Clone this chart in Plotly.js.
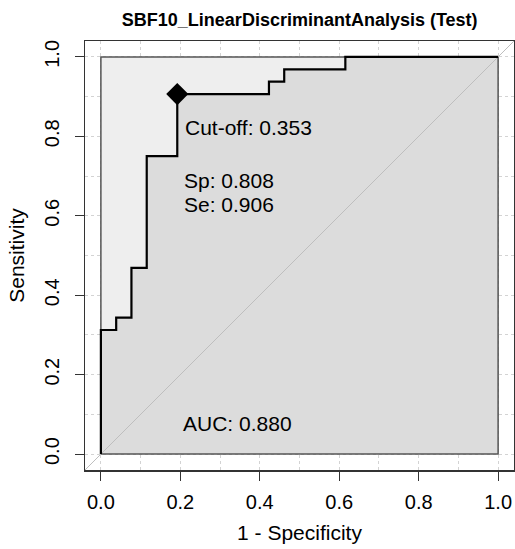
<!DOCTYPE html>
<html>
<head>
<meta charset="utf-8">
<script src="https://cdn.plot.ly/plotly-3.0.1.min.js"></script>
<style>html,body{margin:0;padding:0;background:#fff;}#chart{width:515px;height:549px;}</style>
</head>
<body>
<div id="chart"></div>
<script>
// ROC step vertices (1 - specificity, sensitivity)
var fpr = [0, 0, 0.0385, 0.0385, 0.0769, 0.0769, 0.1154, 0.1154, 0.1923, 0.1923, 0.4231, 0.4231, 0.4615, 0.4615, 0.6154, 0.6154, 1.0];
var tpr = [0, 0.3125, 0.3125, 0.3438, 0.3438, 0.4688, 0.4688, 0.75, 0.75, 0.9063, 0.9063, 0.9375, 0.9375, 0.9688, 0.9688, 1.0, 1.0];
var bestFpr = [0.1923];
var bestTpr = [0.9063];
var unitX = [0, 1, 1, 0, 0];
var unitY = [0, 0, 1, 1, 0];
var diagX = [-0.04, 1.04];
var diagY = [-0.04, 1.04];
var tickVals = [0, 0.2, 0.4, 0.6, 0.8, 1.0];
var tickText = ["0.0", "0.2", "0.4", "0.6", "0.8", "1.0"];
var cutoffText = "Cut-off: 0.353";
var spText = "Sp: 0.808";
var seText = "Se: 0.906";
var aucText = "AUC: 0.880";

var font = "Liberation Sans, Arial, sans-serif";

var traces = [
  {x: unitX, y: unitY, mode: "lines", fill: "toself", fillcolor: "#EEEEEE",
   line: {color: "rgba(0,0,0,0)", width: 0}, hoverinfo: "skip"},
  {x: fpr.concat([1]), y: tpr.concat([0]), mode: "lines", fill: "tozeroy", fillcolor: "#DCDCDC",
   line: {color: "rgba(0,0,0,0)", width: 0}, hoverinfo: "skip"},
  {x: unitX, y: unitY, mode: "lines", line: {color: "#555555", width: 1.5}, hoverinfo: "skip"},
  {x: diagX, y: diagY, mode: "lines", line: {color: "#BEBEBE", width: 1}, hoverinfo: "skip"},
  {x: fpr, y: tpr, mode: "lines", line: {color: "#000000", width: 2.2}, hoverinfo: "skip"},
  {x: bestFpr, y: bestTpr, mode: "markers", marker: {symbol: "diamond", size: 17, color: "#000000"}, hoverinfo: "skip"}
];

function ann(x, y, t) {
  return {x: x, y: y, xref: "x", yref: "y", text: t, showarrow: false, xanchor: "left", yanchor: "middle",
          font: {family: font, size: 21, color: "#000"}};
}

var axisCommon = {
  range: [-0.04, 1.04], autorange: false, zeroline: false,
  tickmode: "array", tickvals: tickVals, ticktext: tickText,
  ticks: "outside", ticklen: 9, tickwidth: 1.2, tickcolor: "#333",
  showline: true, mirror: true, linecolor: "#333", linewidth: 1.5,
  showgrid: true, gridcolor: "#D3D3D3", griddash: "dot", gridwidth: 1,
  minor: {dtick: 0.1, tick0: 0, showgrid: true, gridcolor: "#D3D3D3", griddash: "dot", gridwidth: 1, ticks: ""},
  tickfont: {family: font, size: 20, color: "#000"}
};

var layout = {
  width: 515, height: 549,
  margin: {l: 85, r: 1, t: 41, b: 79},
  paper_bgcolor: "#fff", plot_bgcolor: "#fff",
  showlegend: false,
  title: {text: "<b>SBF10_LinearDiscriminantAnalysis (Test)</b>", x: 0.582, xanchor: "center", y: 0.964, yanchor: "middle",
          font: {family: font, size: 18, color: "#000"}},
  xaxis: Object.assign({}, axisCommon, {
    ticklabelstandoff: 4,
    title: {text: "1 - Specificity", standoff: 14, font: {family: font, size: 21, color: "#000"}}
  }),
  yaxis: Object.assign({}, axisCommon, {
    tickangle: -90, ticklabelstandoff: 8,
    title: {text: "Sensitivity", standoff: 10, font: {family: font, size: 21, color: "#000"}}
  }),
  annotations: [
    ann(0.207, 0.821, cutoffText),
    ann(0.205, 0.690, spText),
    ann(0.205, 0.628, seText),
    ann(0.202, 0.076, aucText)
  ]
};

Plotly.newPlot("chart", traces, layout, {displayModeBar: false, staticPlot: true});
</script>
</body>
</html>
